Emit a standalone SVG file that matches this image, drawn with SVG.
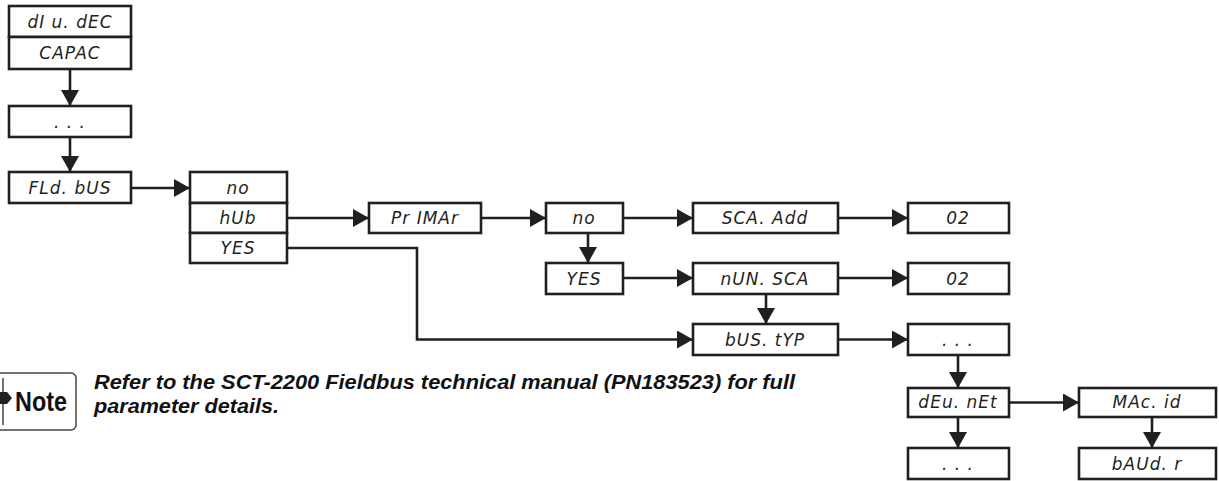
<svg xmlns="http://www.w3.org/2000/svg" width="1219" height="481" viewBox="0 0 1219 481">
<style>
.box{fill:#fff;stroke:#231f20;stroke-width:2.6}
.seg{font-family:"DejaVu Sans","Liberation Sans",sans-serif;font-size:17px;font-style:italic;fill:#231f20;text-anchor:middle;letter-spacing:1px}
.ln{fill:none;stroke:#231f20;stroke-width:2.6}
.note{font-family:"Liberation Sans",Arial,sans-serif;font-weight:bold;fill:#111}
</style>
<defs>
<marker id="ah" markerUnits="userSpaceOnUse" markerWidth="16" markerHeight="18" refX="16" refY="9" orient="auto">
<path d="M0,0 L16,9 L0,18 Z" fill="#231f20"/>
</marker>
</defs>
<g id="connectors">
<line class="ln" x1="70" y1="69" x2="70" y2="106" marker-end="url(#ah)"/>
<line class="ln" x1="70" y1="137" x2="70" y2="172" marker-end="url(#ah)"/>
<line class="ln" x1="131" y1="188" x2="190" y2="188" marker-end="url(#ah)"/>
<line class="ln" x1="287" y1="218" x2="369" y2="218" marker-end="url(#ah)"/>
<line class="ln" x1="481" y1="218" x2="546" y2="218" marker-end="url(#ah)"/>
<line class="ln" x1="588" y1="233" x2="588" y2="263" marker-end="url(#ah)"/>
<line class="ln" x1="623" y1="218" x2="693" y2="218" marker-end="url(#ah)"/>
<line class="ln" x1="838" y1="218" x2="908" y2="218" marker-end="url(#ah)"/>
<line class="ln" x1="623" y1="278" x2="693" y2="278" marker-end="url(#ah)"/>
<line class="ln" x1="838" y1="278" x2="908" y2="278" marker-end="url(#ah)"/>
<line class="ln" x1="766" y1="294" x2="766" y2="324" marker-end="url(#ah)"/>
<polyline class="ln" points="287,248 417,248 417,339.5 693,339.5" marker-end="url(#ah)"/>
<line class="ln" x1="838" y1="339.5" x2="908" y2="339.5" marker-end="url(#ah)"/>
<line class="ln" x1="958" y1="355" x2="958" y2="388" marker-end="url(#ah)"/>
<line class="ln" x1="1009" y1="402.5" x2="1079" y2="402.5" marker-end="url(#ah)"/>
<line class="ln" x1="958" y1="417" x2="958" y2="448" marker-end="url(#ah)"/>
<line class="ln" x1="1152" y1="417" x2="1152" y2="448" marker-end="url(#ah)"/>
</g>
<g id="n-divdec"><rect class="box" x="9" y="6" width="122" height="31"/><text class="seg" x="70" y="28">dI u. dEC</text></g>
<g id="n-capac"><rect class="box" x="9" y="37" width="122" height="32"/><text class="seg" x="70" y="59">CAPAC</text></g>
<g id="n-dots1"><rect class="box" x="9" y="106" width="122" height="31"/><text class="seg" x="70" y="128">. . .</text></g>
<g id="n-fldbus"><rect class="box" x="9" y="172" width="122" height="31"/><text class="seg" x="70" y="194">FLd. bUS</text></g>
<g id="n-no1"><rect class="box" x="190" y="172" width="97" height="31"/><text class="seg" x="238" y="194">no</text></g>
<g id="n-hub"><rect class="box" x="190" y="203" width="97" height="30"/><text class="seg" x="238" y="224">hUb</text></g>
<g id="n-yes1"><rect class="box" x="190" y="233" width="97" height="30"/><text class="seg" x="238" y="254">YES</text></g>
<g id="n-primar"><rect class="box" x="369" y="203" width="112" height="30"/><text class="seg" x="425" y="224">Pr IMAr</text></g>
<g id="n-no2"><rect class="box" x="546" y="203" width="77" height="30"/><text class="seg" x="584" y="224">no</text></g>
<g id="n-yes2"><rect class="box" x="546" y="263" width="77" height="31"/><text class="seg" x="584" y="285">YES</text></g>
<g id="n-scaadd"><rect class="box" x="693" y="203" width="145" height="30"/><text class="seg" x="765" y="224">SCA. Add</text></g>
<g id="n-02a"><rect class="box" x="908" y="203" width="101" height="30"/><text class="seg" x="958" y="224">02</text></g>
<g id="n-numsca"><rect class="box" x="693" y="263" width="145" height="31"/><text class="seg" x="765" y="285">nUN. SCA</text></g>
<g id="n-02b"><rect class="box" x="908" y="263" width="101" height="31"/><text class="seg" x="958" y="285">02</text></g>
<g id="n-bustyp"><rect class="box" x="693" y="324" width="145" height="31"/><text class="seg" x="765" y="346">bUS. tYP</text></g>
<g id="n-dots2"><rect class="box" x="908" y="324" width="101" height="31"/><text class="seg" x="958" y="346">. . .</text></g>
<g id="n-devnet"><rect class="box" x="908" y="388" width="101" height="29"/><text class="seg" x="958" y="408">dEu. nEt</text></g>
<g id="n-dots3"><rect class="box" x="908" y="448" width="101" height="31"/><text class="seg" x="958" y="470">. . .</text></g>
<g id="n-macid"><rect class="box" x="1079" y="388" width="137" height="29"/><text class="seg" x="1147" y="408">MAc. id</text></g>
<g id="n-baudr"><rect class="box" x="1079" y="448" width="137" height="31"/><text class="seg" x="1147" y="470">bAUd. r</text></g>
<g id="note">
<rect x="-10" y="373" width="86" height="57" rx="5" fill="#fff" stroke="#444" stroke-width="1.5"/>
<line x1="3" y1="378" x2="3" y2="425" stroke="#444" stroke-width="1.5"/>
<path d="M0,392 L7,392 L12,398 L7,404 L0,404 Z" fill="#222"/>
<text class="note" x="15" y="411" font-size="27" textLength="52" lengthAdjust="spacingAndGlyphs">Note</text>
<text class="note" x="94" y="389" font-size="20" font-style="italic" textLength="701" lengthAdjust="spacingAndGlyphs">Refer to the SCT-2200 Fieldbus technical manual (PN183523) for full</text>
<text class="note" x="94" y="413" font-size="20" font-style="italic" textLength="185" lengthAdjust="spacingAndGlyphs">parameter details.</text>
</g>
</svg>
